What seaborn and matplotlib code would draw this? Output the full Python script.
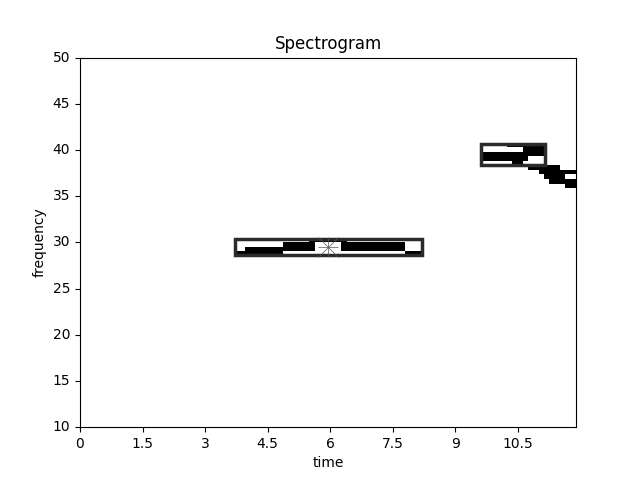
import numpy as np
import matplotlib
matplotlib.use('Agg')
import matplotlib.pyplot as plt
from matplotlib.patches import Rectangle
import seaborn as sns

# bin sizes of the spectrogram
t_step = 0.128
f_step = 0.49
f_base = 30.0
n_time = 93
row_min = -41
row_max = 41

# black runs: frequency row, first time bin, last time bin
run_rows = [-3, -3, -2, -2, -1, -1, 0,
            21, 20, 19, 18, 17, 16, 15, 14, 13, 12]
run_start = [29, 61, 31, 49, 38, 49, 43,
             80, 83, 75, 75, 81, 84, 86, 87, 88, 91]
run_end = [38, 64, 44, 61, 44, 61, 50,
           87, 87, 87, 84, 83, 90, 93, 91, 93, 93]

# detection boxes (time and frequency)
box_t0 = [3.72, 9.62]
box_t1 = [8.2, 11.15]
box_f0 = [28.6, 38.35]
box_f1 = [30.4, 40.7]

star_t = 5.95
star_f = 29.45

xticks = [0, 1.5, 3, 4.5, 6, 7.5, 9, 10.5]
xlabels = ['0', '1.5', '3', '4.5', '6', '7.5', '9', '10.5']
yticks = [10, 15, 20, 25, 30, 35, 40, 45, 50]


def t_pos(t):
    return np.asarray(t) / t_step


def f_pos(f):
    return (np.asarray(f) - (f_base + row_min * f_step)) / f_step


grid = np.zeros((row_max - row_min, n_time))
for r, a, b in zip(run_rows, run_start, run_end):
    grid[r - row_min, a:b] = 1

fig, ax = plt.subplots(figsize=(6.4, 4.8), dpi=100)
sns.heatmap(grid, cmap='gray_r', vmin=0, vmax=1, cbar=False, ax=ax)

# boxes and the star marker
for t0, t1, f0, f1 in zip(box_t0, box_t1, box_f0, box_f1):
    ax.add_patch(Rectangle((t_pos(t0), f_pos(f0)), t_pos(t1) - t_pos(t0),
                           f_pos(f1) - f_pos(f0), fill=False,
                           edgecolor='#2b2b2b', linewidth=2.5))
for m in ['x', '+']:
    ax.plot(t_pos(star_t), f_pos(star_f), marker=m, markersize=15,
            markeredgewidth=0.5, color='#555555')

ax.set_xlim(t_pos(0), t_pos(11.9))
ax.set_ylim(f_pos(10), f_pos(50))
ax.set_xticks(t_pos(xticks))
ax.set_xticklabels(xlabels, rotation=0)
ax.set_yticks(f_pos(yticks))
ax.set_yticklabels([str(v) for v in yticks], rotation=0)
ax.tick_params(length=3.5, width=0.8)
for s in ax.spines.values():
    s.set_visible(True)
    s.set_linewidth(0.8)

ax.set_title('Spectrogram')
ax.set_xlabel('time')
ax.set_ylabel('frequency')
fig.savefig('out.png', dpi=100)
